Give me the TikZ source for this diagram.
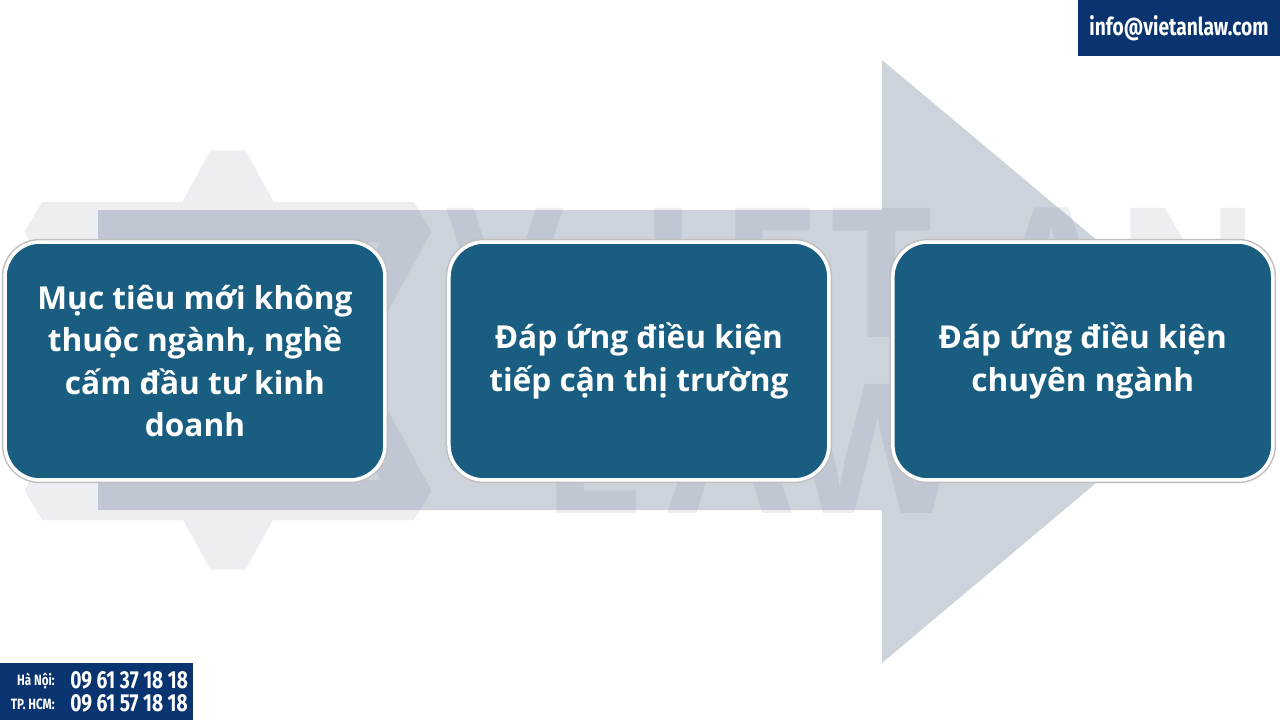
\documentclass[tikz,border=0pt]{standalone}
\usepackage{fontspec}
\setmainfont{Open Sans}
\newfontfamily\condfont[FakeStretch=0.78]{Fira Sans}
\usetikzlibrary{positioning}
\definecolor{stepblue}{RGB}{25,94,128}
\definecolor{arrowgrey}{RGB}{205,211,219}
\definecolor{navy}{RGB}{10,52,112}
\definecolor{wmgrey}{RGB}{100,120,150}
\begin{document}
\begin{tikzpicture}[
      x=0.02cm, y=-0.02cm,
      stepbox/.style={rectangle, rounded corners=0.7cm, fill=stepblue, draw=white,
        line width=0.07cm, preaction={draw=black!25, line width=0.13cm},
        minimum width=7.6cm, minimum height=4.76cm, outer sep=0pt,
        text=white, align=center,
        font=\fontsize{18}{24}\selectfont\bfseries},
      wmark/.style={anchor=base, inner sep=0pt, text=wmgrey,
        font=\fontsize{103}{103}\selectfont\bfseries},
      contact/.style={text=white, inner sep=0pt, font=\condfont\bfseries},
    ]
      \useasboundingbox (0,0) rectangle (1280,720);
      \fill[white] (0,0) rectangle (1280,720);
      \fill[arrowgrey] (98,210) -- (882,210) -- (882,60) -- (1241,361)
        -- (882,663) -- (882,510) -- (98,510) -- cycle;
      \begin{scope}[transparency group, opacity=0.12]
        \draw[wmgrey, line width=0.8cm, line join=bevel]
          (228,160) -- (42,500) -- (414,500) -- cycle;
        \draw[wmgrey, line width=0.8cm, line join=bevel]
          (228,560) -- (42,222) -- (414,222) -- cycle;
        \foreach \ch/\px/\py [count=\i] in {V/505/337, I/668/337, E/770/337,
            T/882/337, A/1052/337, N/1188/337, L/592/513, A/730/513, W/878/513}
          \node[wmark] (wm\i) at (\px,\py) {\ch};
      \end{scope}
      \node[stepbox] (step1) at (195,361)
        {Mục tiêu mới không\\thuộc ngành, nghề\\cấm đầu tư kinh\\doanh};
      \node[stepbox, right=1.28cm of step1] (step2)
        {Đáp ứng điều kiện\\tiếp cận thị trường};
      \node[stepbox, right=1.28cm of step2] (step3)
        {Đáp ứng điều kiện\\chuyên ngành};
      \fill[navy] (1078,0) rectangle (1280,56);
      \node[contact, font=\condfont\bfseries\fontsize{14}{14}\selectfont] (mail)
        at (1179,28) {info@vietanlaw.com};
      \fill[navy] (0,663) rectangle (193,720);
      \node[contact, anchor=east, font=\condfont\bfseries\fontsize{8.5}{8.5}\selectfont]
        (hanoi) at (55,681) {Hà Nội:};
      \node[contact, anchor=east, font=\condfont\bfseries\fontsize{8.5}{8.5}\selectfont]
        (hcm) at (55,704) {TP. HCM:};
      \node[contact, anchor=west, font=\condfont\bfseries\fontsize{14}{14}\selectfont]
        (hanoiphone) at (70,680) {09 61 37 18 18};
      \node[contact, anchor=west, font=\condfont\bfseries\fontsize{14}{14}\selectfont]
        (hcmphone) at (70,703) {09 61 57 18 18};
\end{tikzpicture}
\end{document}
